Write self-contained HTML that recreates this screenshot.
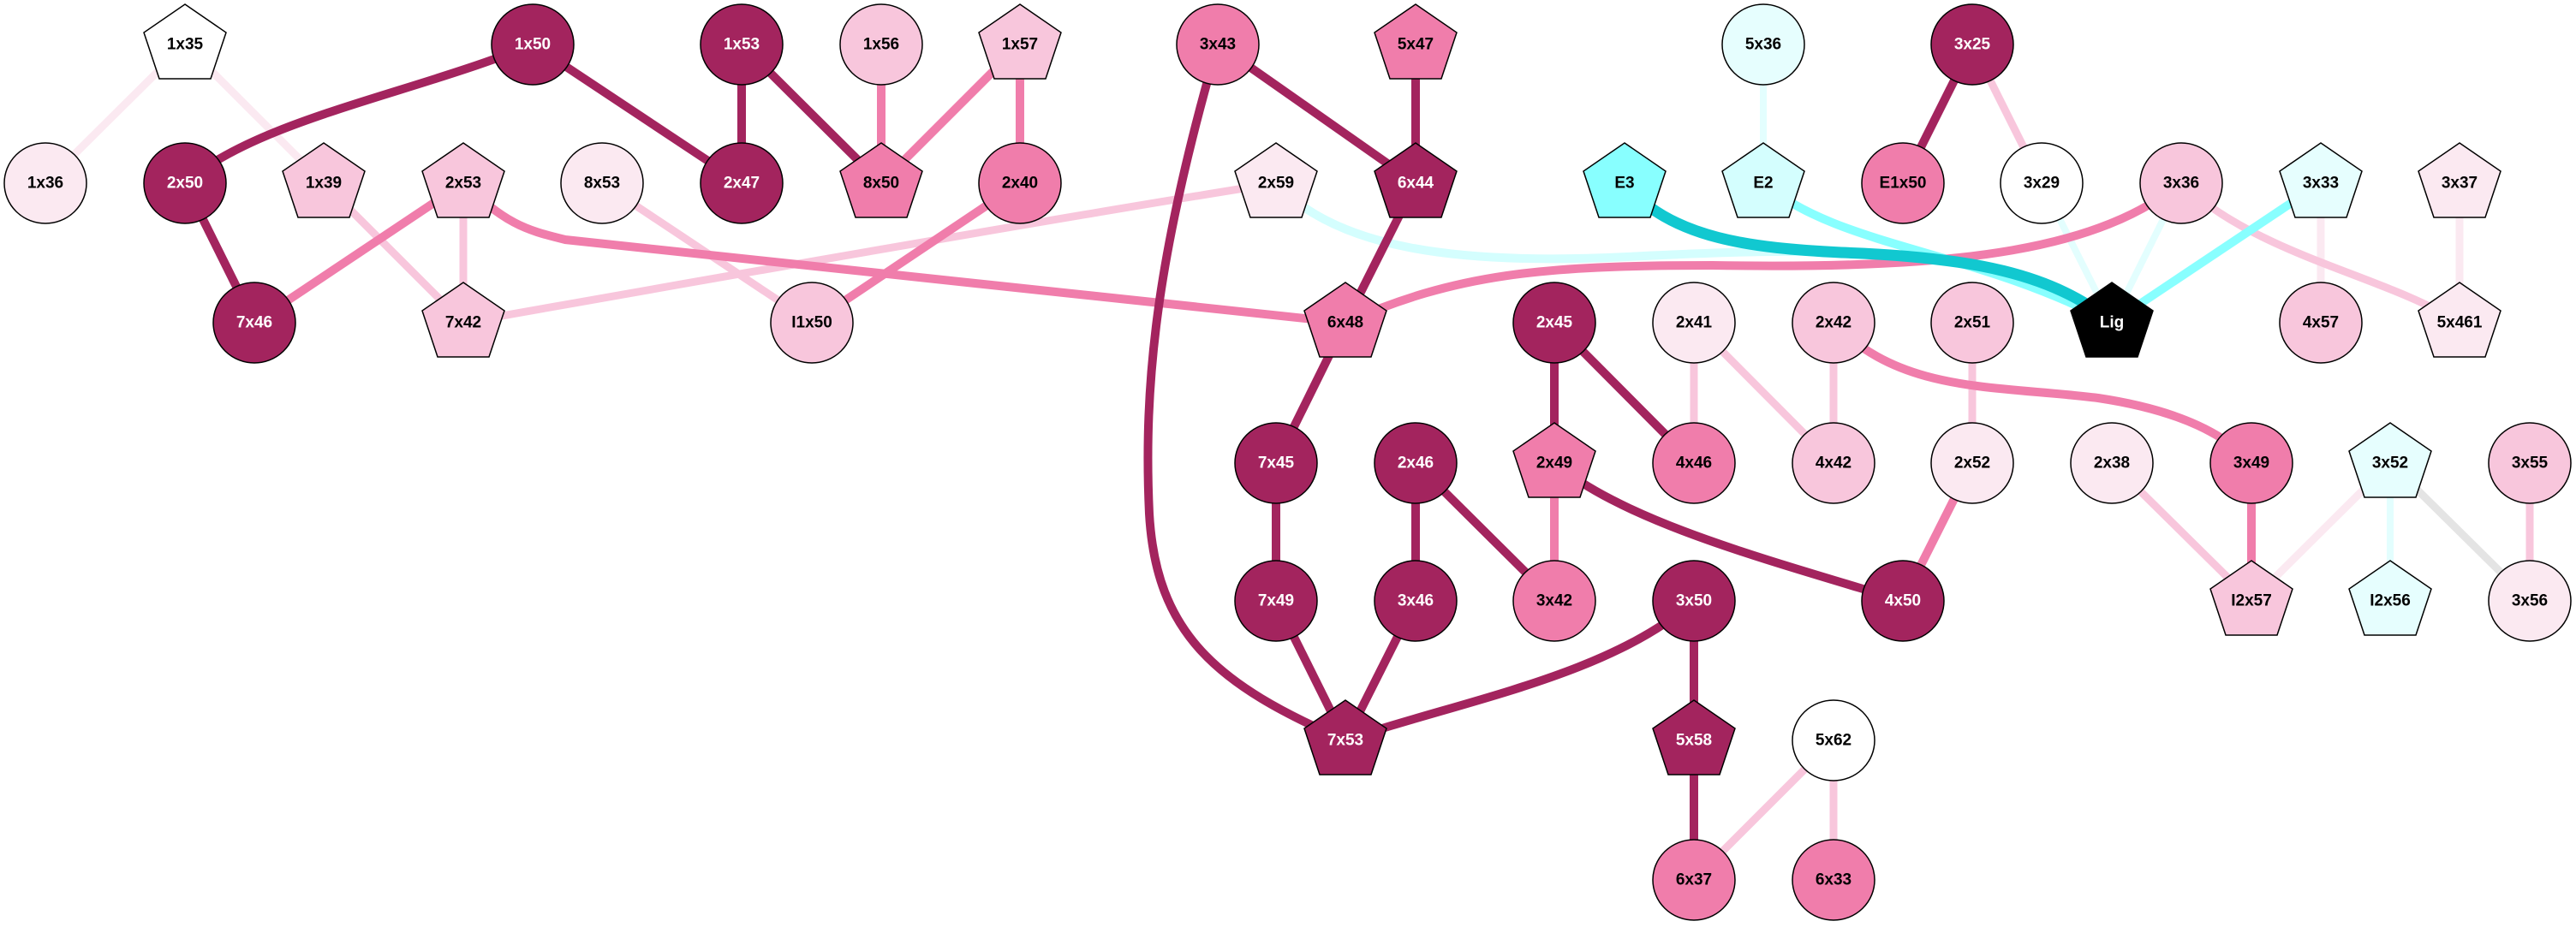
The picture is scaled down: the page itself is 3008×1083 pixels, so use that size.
<!DOCTYPE html>
<html><head><meta charset="utf-8"><style>
html,body{margin:0;padding:0;background:#fff;}
svg{display:block;}
text{font-family:"Liberation Sans",Arial,sans-serif;font-weight:bold;font-size:19px;text-anchor:middle;dominant-baseline:central;}
</style></head><body>
<svg width="3008" height="1083" viewBox="0 0 3008 1083" xmlns="http://www.w3.org/2000/svg">
<defs>
<polygon id="pg" points="0,-47 48,-14 30,40 -30,40 -48,-14" stroke="#000" stroke-width="1.5"/>
</defs>
<g fill="none" stroke-linecap="butt">
<!-- very light pink -->
<g stroke="#fbe9f1" stroke-width="9">
<line x1="216" y1="52" x2="53" y2="214"/>
<line x1="216" y1="52" x2="378" y2="214"/>
<line x1="2710" y1="214" x2="2710" y2="377"/>
<line x1="2872" y1="214" x2="2872" y2="377"/>
<line x1="2791" y1="541" x2="2629" y2="702"/>
</g>
<!-- light pink -->
<g stroke="#f8c6dc" stroke-width="9">
<line x1="703" y1="214" x2="948" y2="377"/>
<line x1="541" y1="214" x2="541" y2="377"/>
<line x1="378" y1="214" x2="541" y2="377"/>
<path d="M541,377 Q1200,260 1490,214"/>
<line x1="1978" y1="377" x2="1978" y2="541"/>
<line x1="1978" y1="377" x2="2141" y2="541"/>
<line x1="2141" y1="377" x2="2141" y2="541"/>
<line x1="2303" y1="377" x2="2303" y2="541"/>
<line x1="2303" y1="52" x2="2384" y2="214"/>
<path d="M2547,214 C2640,300 2780,320 2872,377"/>
<line x1="2466" y1="541" x2="2629" y2="702"/>
<line x1="2954" y1="541" x2="2954" y2="702"/>
<line x1="2141" y1="865" x2="1978" y2="1028"/>
<line x1="2141" y1="865" x2="2141" y2="1028"/>
</g>
<line x1="2791" y1="541" x2="2954" y2="702" stroke="#e4e4e4" stroke-width="9"/>
<!-- very light cyan -->
<g stroke="#e3fefe" stroke-width="8">
<line x1="2059" y1="52" x2="2059" y2="214"/>
<line x1="2384" y1="214" x2="2466" y2="377"/>
<line x1="2547" y1="214" x2="2466" y2="377"/>
<line x1="2791" y1="541" x2="2791" y2="702"/>
</g>
<path d="M1490,214 C1560,290 1700,310 1900,300 C2100,290 2350,280 2466,377" stroke="#d4fefe" stroke-width="10"/>
<!-- cyan -->
<g stroke="#88ffff" stroke-width="10">
<path d="M2059,214 C2150,290 2300,290 2466,377"/>
<line x1="2710" y1="214" x2="2466" y2="377"/>
</g>
<!-- medium pink -->
<g stroke="#f07dab" stroke-width="10">
<line x1="1029" y1="52" x2="1029" y2="214"/>
<line x1="1191" y1="52" x2="1029" y2="214"/>
<line x1="1191" y1="52" x2="1191" y2="214"/>
<line x1="1191" y1="214" x2="948" y2="377"/>
<line x1="541" y1="214" x2="297" y2="377"/>
<path d="M541,214 C590,260 610,268 660,280 L1571,377"/>
<path d="M1571,377 C1700,320 1800,310 2000,310 C2300,315 2450,290 2547,214"/>
<line x1="1815" y1="541" x2="1815" y2="702"/>
<path d="M2141,377 C2220,460 2330,450 2450,465 C2550,480 2600,510 2629,540"/>
<line x1="2303" y1="541" x2="2222" y2="702"/>
<line x1="2629" y1="541" x2="2629" y2="702"/>
</g>
<!-- dark -->
<g stroke="#a3245e" stroke-width="10">
<path d="M622,52 C480,110 300,140 216,214"/>
<line x1="622" y1="52" x2="866" y2="214"/>
<line x1="866" y1="52" x2="866" y2="214"/>
<line x1="866" y1="52" x2="1029" y2="214"/>
<line x1="216" y1="214" x2="297" y2="377"/>
<line x1="1422" y1="52" x2="1653" y2="214"/>
<line x1="1653" y1="52" x2="1653" y2="214"/>
<line x1="1653" y1="214" x2="1571" y2="377"/>
<path d="M1422,52 C1350,300 1335,450 1342,600 C1350,740 1420,800 1571,865"/>
<line x1="1571" y1="377" x2="1490" y2="541"/>
<line x1="1490" y1="541" x2="1490" y2="702"/>
<line x1="1490" y1="702" x2="1571" y2="865"/>
<line x1="1653" y1="541" x2="1653" y2="702"/>
<line x1="1653" y1="702" x2="1571" y2="865"/>
<line x1="1653" y1="541" x2="1815" y2="702"/>
<line x1="1815" y1="377" x2="1815" y2="541"/>
<line x1="1815" y1="377" x2="1978" y2="541"/>
<path d="M1815,541 C1900,610 2050,650 2222,702"/>
<path d="M1978,702 C1880,790 1700,820 1571,865"/>
<line x1="1978" y1="702" x2="1978" y2="865"/>
<line x1="1978" y1="865" x2="1978" y2="1028"/>
<line x1="2303" y1="52" x2="2222" y2="214"/>
</g>
<path d="M1897,214 C1950,280 2050,290 2150,295 C2300,300 2400,320 2466,377" stroke="#11c8d0" stroke-width="13"/>
</g>

<!-- nodes -->
<g stroke="#000" stroke-width="1.5">
<!-- circles -->
<ellipse cx="53" cy="214" rx="48" ry="47" fill="#fbe9f1"/>
<ellipse cx="216" cy="214" rx="48" ry="47" fill="#a3245e"/>
<ellipse cx="703" cy="214" rx="48" ry="47" fill="#fbe9f1"/>
<ellipse cx="866" cy="214" rx="48" ry="47" fill="#a3245e"/>
<ellipse cx="622" cy="52" rx="48" ry="47" fill="#a3245e"/>
<ellipse cx="866" cy="52" rx="48" ry="47" fill="#a3245e"/>
<ellipse cx="297" cy="377" rx="48" ry="47" fill="#a3245e"/>
<ellipse cx="948" cy="377" rx="48" ry="47" fill="#f8c6dc"/>
<ellipse cx="1029" cy="52" rx="48" ry="47" fill="#f8c6dc"/>
<ellipse cx="1422" cy="52" rx="48" ry="47" fill="#f07dab"/>
<ellipse cx="1191" cy="214" rx="48" ry="47" fill="#f07dab"/>
<ellipse cx="1815" cy="377" rx="48" ry="47" fill="#a3245e"/>
<ellipse cx="1978" cy="377" rx="48" ry="47" fill="#fbe9f1"/>
<ellipse cx="1490" cy="541" rx="48" ry="47" fill="#a3245e"/>
<ellipse cx="1653" cy="541" rx="48" ry="47" fill="#a3245e"/>
<ellipse cx="1978" cy="541" rx="48" ry="47" fill="#f07dab"/>
<ellipse cx="1490" cy="702" rx="48" ry="47" fill="#a3245e"/>
<ellipse cx="1653" cy="702" rx="48" ry="47" fill="#a3245e"/>
<ellipse cx="1815" cy="702" rx="48" ry="47" fill="#f07dab"/>
<ellipse cx="1978" cy="702" rx="48" ry="47" fill="#a3245e"/>
<ellipse cx="1978" cy="1028" rx="48" ry="47" fill="#f07dab"/>
<ellipse cx="2141" cy="865" rx="48" ry="47" fill="#ffffff"/>
<ellipse cx="2141" cy="1028" rx="48" ry="47" fill="#f07dab"/>
<ellipse cx="2059" cy="52" rx="48" ry="47" fill="#e6fefe"/>
<ellipse cx="2303" cy="52" rx="48" ry="47" fill="#a3245e"/>
<ellipse cx="2222" cy="214" rx="48" ry="47" fill="#f07dab"/>
<ellipse cx="2384" cy="214" rx="48" ry="47" fill="#ffffff"/>
<ellipse cx="2547" cy="214" rx="48" ry="47" fill="#f8c6dc"/>
<ellipse cx="2141" cy="377" rx="48" ry="47" fill="#f8c6dc"/>
<ellipse cx="2303" cy="377" rx="48" ry="47" fill="#f8c6dc"/>
<ellipse cx="2710" cy="377" rx="48" ry="47" fill="#f8c6dc"/>
<ellipse cx="2141" cy="541" rx="48" ry="47" fill="#f8c6dc"/>
<ellipse cx="2303" cy="541" rx="48" ry="47" fill="#fbe9f1"/>
<ellipse cx="2466" cy="541" rx="48" ry="47" fill="#fbe9f1"/>
<ellipse cx="2629" cy="541" rx="48" ry="47" fill="#f07dab"/>
<ellipse cx="2954" cy="541" rx="48" ry="47" fill="#f8c6dc"/>
<ellipse cx="2222" cy="702" rx="48" ry="47" fill="#a3245e"/>
<ellipse cx="2954" cy="702" rx="48" ry="47" fill="#fbe9f1"/>
<!-- pentagons -->
<use href="#pg" x="216" y="52" fill="#ffffff"/>
<use href="#pg" x="378" y="214" fill="#f8c6dc"/>
<use href="#pg" x="541" y="214" fill="#f8c6dc"/>
<use href="#pg" x="541" y="377" fill="#f8c6dc"/>
<use href="#pg" x="1191" y="52" fill="#f8c6dc"/>
<use href="#pg" x="1653" y="52" fill="#f07dab"/>
<use href="#pg" x="1029" y="214" fill="#f07dab"/>
<use href="#pg" x="1490" y="214" fill="#fbe9f1"/>
<use href="#pg" x="1653" y="214" fill="#a3245e"/>
<use href="#pg" x="1897" y="214" fill="#88ffff"/>
<use href="#pg" x="1571" y="377" fill="#f07dab"/>
<use href="#pg" x="1815" y="541" fill="#f07dab"/>
<use href="#pg" x="1571" y="865" fill="#a3245e"/>
<use href="#pg" x="1978" y="865" fill="#a3245e"/>
<use href="#pg" x="2059" y="214" fill="#d4fefe"/>
<use href="#pg" x="2710" y="214" fill="#e6fefe"/>
<use href="#pg" x="2872" y="214" fill="#fbe9f1"/>
<use href="#pg" x="2466" y="377" fill="#000000"/>
<use href="#pg" x="2872" y="377" fill="#fbe9f1"/>
<use href="#pg" x="2791" y="541" fill="#e6fefe"/>
<use href="#pg" x="2629" y="702" fill="#f8c6dc"/>
<use href="#pg" x="2791" y="702" fill="#e6fefe"/>
</g>

<!-- labels -->
<g fill="#000">
<text x="216" y="52">1x35</text>
<text x="53" y="214">1x36</text>
<text x="378" y="214">1x39</text>
<text x="541" y="214">2x53</text>
<text x="703" y="214">8x53</text>
<text x="541" y="377">7x42</text>
<text x="948" y="377">I1x50</text>
<text x="1029" y="52">1x56</text>
<text x="1191" y="52">1x57</text>
<text x="1422" y="52">3x43</text>
<text x="1653" y="52">5x47</text>
<text x="1029" y="214">8x50</text>
<text x="1191" y="214">2x40</text>
<text x="1490" y="214">2x59</text>
<text x="1897" y="214">E3</text>
<text x="1571" y="377">6x48</text>
<text x="1978" y="377">2x41</text>
<text x="1815" y="541">2x49</text>
<text x="1978" y="541">4x46</text>
<text x="1815" y="702">3x42</text>
<text x="1978" y="1028">6x37</text>
<text x="2141" y="865">5x62</text>
<text x="2141" y="1028">6x33</text>
<text x="2059" y="52">5x36</text>
<text x="2059" y="214">E2</text>
<text x="2222" y="214">E1x50</text>
<text x="2384" y="214">3x29</text>
<text x="2547" y="214">3x36</text>
<text x="2710" y="214">3x33</text>
<text x="2872" y="214">3x37</text>
<text x="2141" y="377">2x42</text>
<text x="2303" y="377">2x51</text>
<text x="2710" y="377">4x57</text>
<text x="2872" y="377">5x461</text>
<text x="2141" y="541">4x42</text>
<text x="2303" y="541">2x52</text>
<text x="2466" y="541">2x38</text>
<text x="2629" y="541">3x49</text>
<text x="2791" y="541">3x52</text>
<text x="2954" y="541">3x55</text>
<text x="2629" y="702">I2x57</text>
<text x="2791" y="702">I2x56</text>
<text x="2954" y="702">3x56</text>
</g>
<g fill="#fff">
<text x="622" y="52">1x50</text>
<text x="866" y="52">1x53</text>
<text x="216" y="214">2x50</text>
<text x="866" y="214">2x47</text>
<text x="297" y="377">7x46</text>
<text x="1653" y="214">6x44</text>
<text x="1815" y="377">2x45</text>
<text x="1490" y="541">7x45</text>
<text x="1653" y="541">2x46</text>
<text x="1490" y="702">7x49</text>
<text x="1653" y="702">3x46</text>
<text x="1978" y="702">3x50</text>
<text x="1571" y="865">7x53</text>
<text x="1978" y="865">5x58</text>
<text x="2303" y="52">3x25</text>
<text x="2466" y="377">Lig</text>
<text x="2222" y="702">4x50</text>
</g>
</svg>
</body></html>
